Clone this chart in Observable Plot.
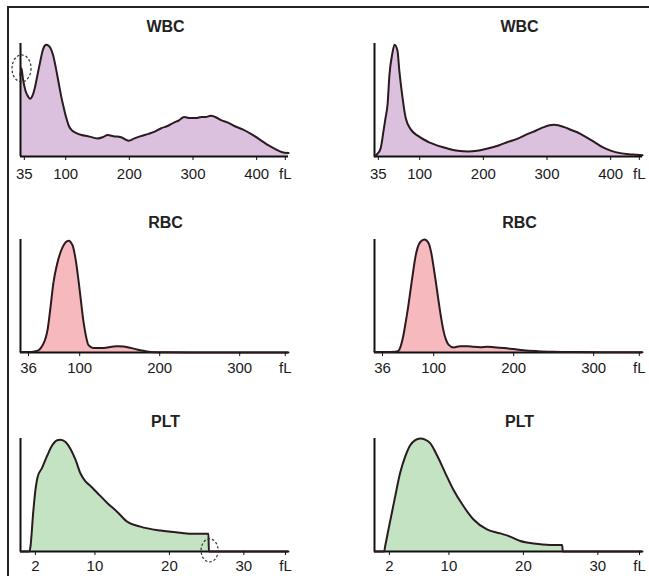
<!DOCTYPE html>
<html><head><meta charset="utf-8">
<script src="https://cdn.jsdelivr.net/npm/d3@7"></script>
<script src="https://cdn.jsdelivr.net/npm/@observablehq/plot@0.6"></script>
<style>
html,body{margin:0;padding:0;background:#fff;}
#chart{position:relative;width:649px;height:576px;overflow:hidden;background:#fff;}
#frame{position:absolute;left:7px;top:6px;right:-5px;bottom:-5px;border-top:2px solid #222;border-left:2px solid #222;}
.panel{position:absolute;}
</style></head><body>
<div id="chart"><div id="frame"></div></div>
<script>
// ---- Data (volume in fL, relative count) ----
const wbcDomain = [29, 450];
const wbcTicks = [35, 100, 200, 300, 400, 445];
const wbcTickLabels = ["35", "100", "200", "300", "400", "fL"];
const rbcDomain = [26, 361];
const rbcTicks = [36, 100, 200, 300, 357];
const rbcTickLabels = ["36", "100", "200", "300", "fL"];
const pltDomain = [0, 36];
const pltTicks = [2, 10, 20, 30, 35.6];
const pltTickLabels = ["2", "10", "20", "30", "fL"];

const wbcLeftX = [29,30.5,33,37,41,44,48,52,56,60,64,67,70,73,76,80,84,89,93,97,101,105,110,116,125,135,150,158,166,175,187,199,208,218,230,240,250,260,270,278,286,295,305,313,320,328,335,345,355,365,378,391,405,418,428,439,450];
const wbcLeftY = [72,78,68,58,53,51,54,62,73,84,94,98,99,98,96,90,80,65,53,43,34,27,23,21,19,18,16,17,19,18,17,14,16,18,20,22,25,27,30,32,35,34,34,35,35,36,35,32,30,27,24,20,15,10,7,4,3];
const wbcRightX = [29,33,38.5,43,46,49.5,52.6,57,60.5,65,68,73,78,86,98,117,144,160,176,190,207,225,239,255,270,283,295,311,327,340,349,362,374,388,401,415,428,440,450];
const wbcRightY = [0,2,7,22,33,46,73,91,99,94,76,52,34,24,18,12,7,5,4.5,5,7,10,13,16,20,23,26,28,26,23,21,17,13,8,5,3,2,1.5,1];

const rbcLeftX = [26,36,44,48.5,51.5,54.8,57.5,59.8,63.5,67,72,78.5,86,91,95,100,105,108,111,117,130,140,147,155,160,170,176,188.5,210,250,300,361];
const rbcLeftY = [0.5,0.5,1,2,4,8,13,20,40,61,79,93,99,95,82,55,26,14,6.5,4,4,5,5.6,5.4,4.7,3,2,0.5,0.2,0,0,0];
const rbcRightX = [26,40,52,56,58.5,61.5,64.8,68,71,74,77,80,83.5,88.5,93.5,97,100,103,106,109,112,115,118.5,125,133,142,150,158.5,167,175,188,200,212,230,250,280,320,361];
const rbcRightY = [0.5,0.5,0.7,1.5,5,13,26,40,55,70,84,93,98,100,97,88,75,61,46,32,20,12,7,4.5,5.6,5.6,5,4.7,5,4.7,4,3,2,1.2,0.7,0.4,0.2,0.2];

const pltLeftX = [0,1.2,1.34,1.7,2.0,2.3,2.9,3.6,4.26,4.93,5.37,6.05,6.7,7.4,8.06,8.73,9.4,10.3,11.65,13,14.3,16.1,18.8,21.5,23.2,25.25,25.3,36];
const pltLeftY = [0,0,4.4,34,54,66,74,85,94,98.5,99,97,91,81,69,62,58,52,43,35,26.5,22,18.5,16.5,15.6,15.6,0,0];
const pltRightX = [0,1.3,1.44,1.88,2.34,2.78,3.45,4.12,4.8,5.47,6.14,6.8,7.48,8.38,9.5,10.6,11.96,13.3,15.1,16.9,18.2,19.6,21.4,23.6,25.2,25.3,36];
const pltRightY = [0,0,4.9,19.6,34.5,48.8,69.6,83.9,94,98.5,100,99,95.9,85.4,69.6,54.6,40,28.3,19.6,16,13.2,9.3,7,5.8,5.8,0,0];

// annotation (dashed ellipse) anchors
const wbcLeftMarkX = [30.6];
const wbcLeftMarkY = [78];
const pltLeftMarkX = [25.4];
const pltLeftMarkY = [1];

const colors = {wbc: "#dcc1de", rbc: "#f6babe", plt: "#c3e3c3"};

// ---- Drawing ----
function ellipseSymbol(rx, ry) {
  const k = 0.5523;
  return {draw(ctx) {
    ctx.moveTo(rx, 0);
    ctx.bezierCurveTo(rx, ry * k, rx * k, ry, 0, ry);
    ctx.bezierCurveTo(-rx * k, ry, -rx, ry * k, -rx, 0);
    ctx.bezierCurveTo(-rx, -ry * k, -rx * k, -ry, 0, -ry);
    ctx.bezierCurveTo(rx * k, -ry, rx, -ry * k, rx, 0);
    ctx.closePath();
  }};
}

function panel(cfg) {
  const data = cfg.x.map((x, i) => ({x, y: cfg.y[i]}));
  const marks = [
    Plot.areaY(data, {x: "x", y: "y", fill: cfg.fill, curve: "monotone-x"}),
    Plot.ruleY([0], {stroke: "#111", strokeWidth: 2}),
    Plot.ruleX([cfg.domain[0]], {stroke: "#111", strokeWidth: 2}),
    Plot.line(data, {x: "x", y: "y", stroke: "#2b1a1f", strokeWidth: 2, curve: "monotone-x"}),
    Plot.axisX(cfg.ticks, {tickFormat: d => cfg.labels[cfg.ticks.indexOf(d)], label: null,
      tickSize: 4, tickPadding: cfg.pad, fontSize: 15, stroke: "#111"}),
    Plot.text([cfg.title], {frameAnchor: "top-left", dx: 145, dy: -17, text: d => d,
      textAnchor: "middle", lineAnchor: "middle", fontSize: 16, fontWeight: "bold",
      fontFamily: "'Liberation Sans', Arial, sans-serif", fill: "#222"})
  ];
  if (cfg.mark) {
    const md = cfg.mark.x.map((x, i) => ({x, y: cfg.mark.y[i]}));
    marks.push(Plot.dot(md, {x: "x", y: "y", symbol: ellipseSymbol(cfg.mark.rx, cfg.mark.ry), r: 5,
      fill: "none", stroke: "#333", strokeWidth: 1.2, strokeDasharray: "2.5,2"}));
  }
  const svg = Plot.plot({
    width: 295, height: 186, marginTop: 43, marginBottom: 30, marginLeft: 20, marginRight: 7,
    x: {domain: cfg.domain, label: null}, y: {domain: [0, 100], axis: null},
    style: {fontFamily: "'Liberation Sans Narrow', 'Arial Narrow', 'Liberation Sans', sans-serif",
      fontSize: "15px", color: "#1a1a1a", background: "transparent", overflow: "visible"},
    marks
  });
  svg.classList.add("panel");
  svg.style.left = cfg.left + "px";
  svg.style.top = cfg.top + "px";
  document.getElementById("chart").appendChild(svg);
}

const cols = [0, 354];
const rows = [0, 196, 395];
const pads = [8, 6, 5];

panel({title: "WBC", x: wbcLeftX, y: wbcLeftY, domain: wbcDomain, ticks: wbcTicks, labels: wbcTickLabels, fill: colors.wbc,
  left: cols[0], top: rows[0], pad: pads[0], mark: {x: wbcLeftMarkX, y: wbcLeftMarkY, rx: 9.5, ry: 13.5}});
panel({title: "WBC", x: wbcRightX, y: wbcRightY, domain: wbcDomain, ticks: wbcTicks, labels: wbcTickLabels, fill: colors.wbc,
  left: cols[1], top: rows[0], pad: pads[0]});
panel({title: "RBC", x: rbcLeftX, y: rbcLeftY, domain: rbcDomain, ticks: rbcTicks, labels: rbcTickLabels, fill: colors.rbc,
  left: cols[0], top: rows[1], pad: pads[1]});
panel({title: "RBC", x: rbcRightX, y: rbcRightY, domain: rbcDomain, ticks: rbcTicks, labels: rbcTickLabels, fill: colors.rbc,
  left: cols[1], top: rows[1], pad: pads[1]});
panel({title: "PLT", x: pltLeftX, y: pltLeftY, domain: pltDomain, ticks: pltTicks, labels: pltTickLabels, fill: colors.plt,
  left: cols[0], top: rows[2], pad: pads[2], mark: {x: pltLeftMarkX, y: pltLeftMarkY, rx: 8.5, ry: 11.5}});
panel({title: "PLT", x: pltRightX, y: pltRightY, domain: pltDomain, ticks: pltTicks, labels: pltTickLabels, fill: colors.plt,
  left: cols[1], top: rows[2], pad: pads[2]});
</script>
</body></html>
